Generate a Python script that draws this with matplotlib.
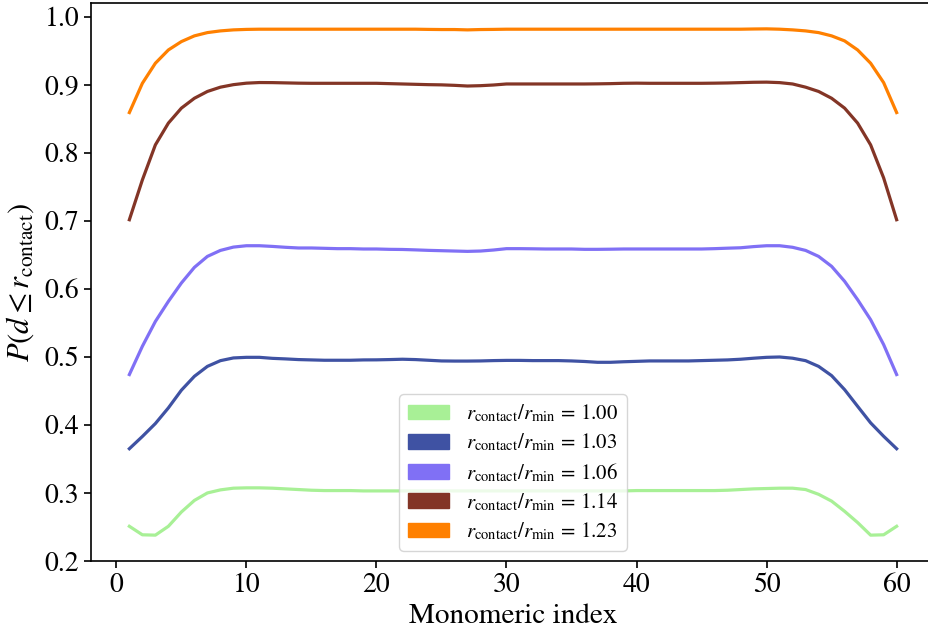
import matplotlib
matplotlib.use('Agg')
import matplotlib.pyplot as plt
import matplotlib.patches as mpatches
import numpy as np

plt.rcParams['font.family'] = 'STIXGeneral'
plt.rcParams['mathtext.fontset'] = 'stix'

index = list(range(1, 61))

ratios = ['1.00', '1.03', '1.06', '1.14', '1.23']
colors = ['#a8f096', '#3f52a3', '#8070f5', '#833526', '#ff8000']

p_100 = [0.251, 0.2385, 0.238, 0.251, 0.272, 0.289, 0.300, 0.3045, 0.307, 0.3075,
         0.3075, 0.307, 0.306, 0.305, 0.304, 0.3035, 0.3035, 0.3035, 0.303, 0.303,
         0.303, 0.303, 0.303, 0.303, 0.303, 0.303, 0.303, 0.303, 0.303, 0.303,
         0.303, 0.303, 0.303, 0.303, 0.303, 0.303, 0.303, 0.303, 0.303, 0.3035,
         0.3035, 0.3035, 0.3035, 0.3035, 0.3035, 0.3035, 0.304, 0.305, 0.306, 0.3065,
         0.307, 0.307, 0.305, 0.298, 0.288, 0.273, 0.2565, 0.238, 0.2385, 0.251]

p_103 = [0.365, 0.383, 0.402, 0.425, 0.451, 0.4714, 0.486, 0.4944, 0.4984, 0.4993,
         0.4993, 0.4978, 0.497, 0.496, 0.4955, 0.495, 0.495, 0.495, 0.4955, 0.4956,
         0.496, 0.4965, 0.496, 0.495, 0.494, 0.4938, 0.4938, 0.494, 0.4945, 0.4948,
         0.4948, 0.4945, 0.4945, 0.4945, 0.494, 0.4932, 0.492, 0.492, 0.4928, 0.4934,
         0.494, 0.494, 0.494, 0.494, 0.4945, 0.495, 0.4955, 0.4965, 0.498, 0.4993,
         0.4998, 0.498, 0.4944, 0.486, 0.4724, 0.4518, 0.4273, 0.403, 0.3833, 0.365]

p_106 = [0.474, 0.5155, 0.552, 0.5815, 0.6085, 0.6315, 0.6476, 0.6564, 0.6613, 0.6633,
         0.6633, 0.6623, 0.661, 0.660, 0.660, 0.6595, 0.659, 0.659, 0.6585, 0.6585,
         0.658, 0.6578, 0.6572, 0.6565, 0.656, 0.6555, 0.655, 0.6555, 0.657, 0.659,
         0.659, 0.6588, 0.6585, 0.6585, 0.6585, 0.658, 0.658, 0.6582, 0.6585, 0.6585,
         0.6585, 0.6585, 0.6585, 0.6585, 0.6585, 0.659, 0.6597, 0.6603, 0.662, 0.6633,
         0.6633, 0.661, 0.6564, 0.6476, 0.633, 0.611, 0.584, 0.5546, 0.518, 0.474]

p_114 = [0.7015, 0.760, 0.8115, 0.8435, 0.8655, 0.880, 0.890, 0.8963, 0.900, 0.9022,
         0.9031, 0.903, 0.9026, 0.9022, 0.902, 0.902, 0.902, 0.902, 0.902, 0.902,
         0.9015, 0.901, 0.9005, 0.900, 0.8997, 0.899, 0.898, 0.8985, 0.8995, 0.901,
         0.901, 0.901, 0.901, 0.901, 0.901, 0.901, 0.9012, 0.9015, 0.902, 0.9022,
         0.902, 0.902, 0.902, 0.902, 0.902, 0.9022, 0.9025, 0.903, 0.9035, 0.9037,
         0.903, 0.901, 0.8963, 0.890, 0.880, 0.8655, 0.8435, 0.8115, 0.763, 0.7015]

p_123 = [0.859, 0.902, 0.9315, 0.951, 0.9633, 0.9717, 0.9765, 0.979, 0.9805, 0.9812,
         0.9815, 0.9815, 0.9815, 0.9815, 0.9815, 0.9815, 0.9815, 0.9815, 0.9815, 0.9815,
         0.9815, 0.9815, 0.9815, 0.9812, 0.981, 0.981, 0.9805, 0.981, 0.9812, 0.9815,
         0.9815, 0.9815, 0.9815, 0.9815, 0.9815, 0.9815, 0.9815, 0.9815, 0.9815, 0.9815,
         0.9815, 0.9815, 0.9815, 0.9815, 0.9815, 0.9815, 0.9815, 0.9815, 0.9818, 0.982,
         0.9815, 0.9805, 0.979, 0.9765, 0.9717, 0.9643, 0.951, 0.9315, 0.903, 0.859]

series = [p_100, p_103, p_106, p_114, p_123]

fig = plt.figure(figsize=(9.29, 6.32), dpi=100)
ax = fig.add_axes([91 / 929, 71 / 632, 844 / 929, 558 / 632])

handles = []
for vals, c, r in zip(series, colors, ratios):
    ax.plot(index, vals, color=c, lw=2.3)
    handles.append(mpatches.Patch(color=c, label=r'$r_{\rm contact}/r_{\rm min}\,=\,%s$' % r))

ax.set_xlim(-1.95, 62.95)
ax.set_ylim(0.2, 1.02)
ax.set_xticks([0, 10, 20, 30, 40, 50, 60])
ax.set_yticks([0.2, 0.3, 0.4, 0.5, 0.6, 0.7, 0.8, 0.9, 1.0])
ax.tick_params(labelsize=20, length=5, width=1.2)
for s in ax.spines.values():
    s.set_linewidth(1.2)

ax.set_xlabel('Monomeric index', fontsize=21, labelpad=4)
ax.set_ylabel(r'$P(d \leq r_{\rm contact})$', fontsize=22, labelpad=6)

ax.legend(handles=handles, loc='lower center', fontsize=15, labelspacing=0.36)

fig.savefig('out.png', dpi=100)
